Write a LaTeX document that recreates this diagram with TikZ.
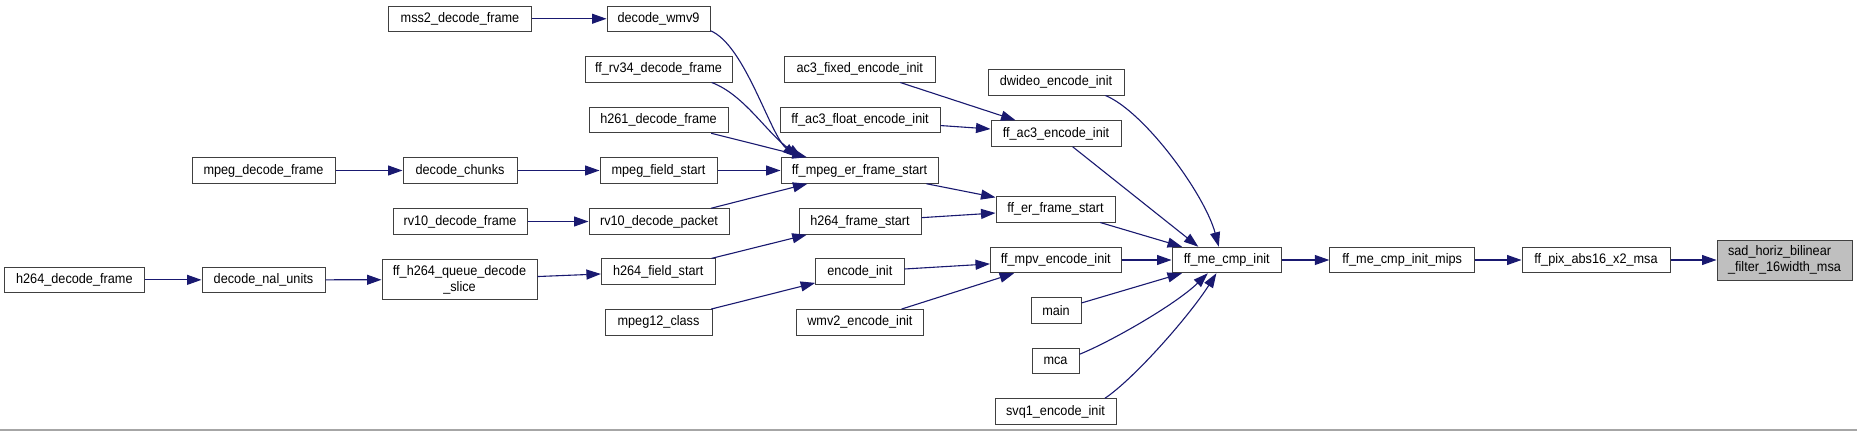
\documentclass[tikz,border=0pt]{standalone}
\usepackage{fontspec}
\setmainfont{Liberation Sans}[FakeStretch=0.92]
\usetikzlibrary{arrows.meta}
\definecolor{edgeblue}{HTML}{191970}
\definecolor{boxline}{HTML}{404040}
\definecolor{hilite}{HTML}{BFBFBF}
\tikzset{
  fn/.style={draw=boxline, line width=1pt, fill=white, inner sep=0pt, align=center,
    minimum height=25.5pt, font=\fontsize{13.8}{15.5}\selectfont},
  callarrow/.style={draw=edgeblue, line width=1.1pt,
    -{Triangle[length=14.5pt,width=10pt]}},
}
\begin{document}
\begin{tikzpicture}[x=1pt,y=-1pt]
\useasboundingbox (0,0) rectangle (1857,431);
\fill[white] (0,0) rectangle (1857,431);
\draw[black!35, line width=1.5pt] (0,430) -- (1857,430);

% nodes
\node[fn, minimum width=143pt] (mss2) at (460,18.75) {mss2\_decode\_frame};
\node[fn, minimum width=103pt] (wmv9) at (658.5,18.75) {decode\_wmv9};
\node[fn, minimum width=147pt] (rv34) at (658.5,69.25) {ff\_rv34\_decode\_frame};
\node[fn, minimum width=150.5pt] (ac3fixed) at (859.75,69.25) {ac3\_fixed\_encode\_init};
\node[fn, minimum width=136pt] (dwideo) at (1056,82.25) {dwideo\_encode\_init};
\node[fn, minimum width=139pt] (h261) at (658.5,120) {h261\_decode\_frame};
\node[fn, minimum width=160pt] (ac3float) at (860,120) {ff\_ac3\_float\_encode\_init};
\node[fn, minimum width=130pt] (ac3enc) at (1056,133.5) {ff\_ac3\_encode\_init};
\node[fn, minimum width=143pt] (mpegdec) at (263.5,170.5) {mpeg\_decode\_frame};
\node[fn, minimum width=114pt] (chunks) at (460,170.5) {decode\_chunks};
\node[fn, minimum width=117pt] (fieldstart) at (658.5,170.5) {mpeg\_field\_start};
\node[fn, minimum width=157pt] (mpeger) at (859.5,170.5) {ff\_mpeg\_er\_frame\_start};
\node[fn, minimum width=119pt] (erframe) at (1055.5,209.25) {ff\_er\_frame\_start};
\node[fn, minimum width=134pt] (rv10frame) at (460,221.5) {rv10\_decode\_frame};
\node[fn, minimum width=140pt] (rv10packet) at (659,221.5) {rv10\_decode\_packet};
\node[fn, minimum width=122pt] (h264frame) at (860,221.5) {h264\_frame\_start};
\node[fn, minimum width=130.5pt] (mpv) at (1055.75,260) {ff\_mpv\_encode\_init};
\node[fn, minimum width=109.5pt] (mecmp) at (1226.75,260) {ff\_me\_cmp\_init};
\node[fn, minimum width=144.7pt] (mips) at (1402.15,260) {ff\_me\_cmp\_init\_mips};
\node[fn, minimum width=148pt] (pixabs) at (1596,260) {ff\_pix\_abs16\_x2\_msa};
\node[fn, fill=hilite, minimum width=135pt, minimum height=40pt, align=left] (sad) at (1784.5,260) {sad\_horiz\_bilinear\\\_filter\_16width\_msa};
\node[fn, minimum width=88.3pt] (encinit) at (859.85,271.65) {encode\_init};
\node[fn, minimum width=113.6pt] (h264field) at (658.2,271.65) {h264\_field\_start};
\node[fn, minimum width=139.3pt] (h264dec) at (74.35,279.85) {h264\_decode\_frame};
\node[fn, minimum width=123pt] (nal) at (263.5,279.85) {decode\_nal\_units};
\node[fn, minimum width=155pt, minimum height=40pt] (queue) at (459.5,279.7) {ff\_h264\_queue\_decode\\\_slice};
\node[fn, minimum width=50pt] (main) at (1056,310.5) {main};
\node[fn, minimum width=107pt] (mpeg12) at (658.5,322.35) {mpeg12\_class};
\node[fn, minimum width=126.3pt] (wmv2) at (859.85,322.35) {wmv2\_encode\_init};
\node[fn, minimum width=47pt] (mca) at (1055.5,361.15) {mca};
\node[fn, minimum width=121pt] (svq1) at (1055.5,411.5) {svq1\_encode\_init};

% edges
\draw[callarrow] (mss2) -- (wmv9);
\draw[callarrow] (wmv9.-13) .. controls (745,45) and (770,135) .. (mpeger.168);
\draw[callarrow] (rv34.-14.5) .. controls (745,95) and (768,135) .. (mpeger.167);
\draw[callarrow] (h261) -- (mpeger);
\draw[callarrow] (fieldstart) -- (mpeger);
\draw[callarrow] (rv10packet) -- (mpeger);
\draw[callarrow] (mpegdec) -- (chunks);
\draw[callarrow] (chunks) -- (fieldstart);
\draw[callarrow] (rv10frame) -- (rv10packet);
\draw[callarrow] (h264dec) -- (nal);
\draw[callarrow] (nal) -- (queue);
\draw[callarrow] (queue) -- (h264field);
\draw[callarrow] (h264field) -- (h264frame);
\draw[callarrow] (mpeg12) -- (encinit);
\draw[callarrow] (encinit) -- (mpv);
\draw[callarrow] (wmv2) -- (mpv);
\draw[callarrow] (ac3fixed) -- (ac3enc);
\draw[callarrow] (ac3float) -- (ac3enc);
\draw[callarrow] (mpeger) -- (erframe);
\draw[callarrow] (h264frame) -- (erframe);
\draw[callarrow] (dwideo.-15.2) .. controls (1145,112) and (1205,195) .. (mecmp.121.4);
\draw[callarrow] (ac3enc) -- (mecmp.155);
\draw[callarrow] (erframe) -- (mecmp);
\draw[callarrow] (mpv) -- (mecmp);
\draw[callarrow] (main) -- (mecmp);
\draw[callarrow] (mca.16.3) .. controls (1110,342) and (1175,305) .. (mecmp.215.6);
\draw[callarrow] (svq1.15.5) .. controls (1135,378) and (1190,315) .. (mecmp.232.5);
\draw[callarrow] (mecmp) -- (mips);
\draw[callarrow] (mips) -- (pixabs);
\draw[callarrow] (pixabs) -- (sad);
\end{tikzpicture}
\end{document}
